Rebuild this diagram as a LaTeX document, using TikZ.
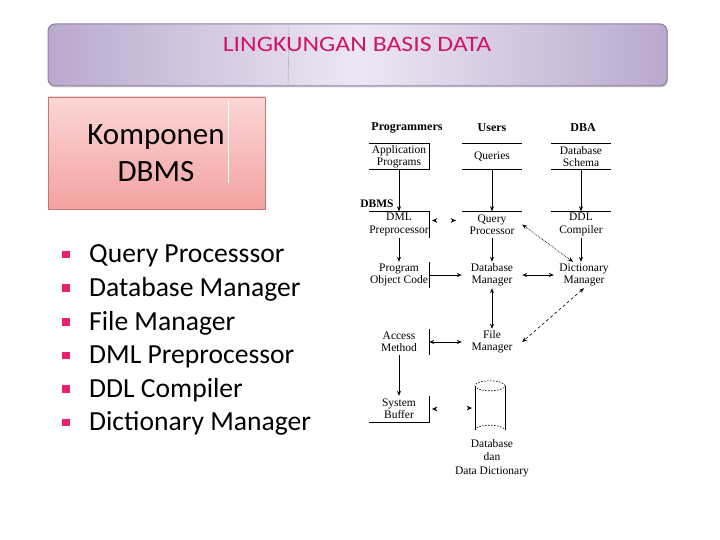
\documentclass[tikz,border=0pt]{standalone}
\usepackage{fontspec}
\setmainfont{Carlito}
\newfontfamily\tnr{Liberation Serif}
\usetikzlibrary{arrows.meta,shadows,calc}
\definecolor{titlemag}{HTML}{D0146C}
\definecolor{bulletpink}{HTML}{E4226E}
\definecolor{bannerdark}{HTML}{B9A9CD}
\definecolor{bannerlight}{HTML}{EDE7F3}
\definecolor{bannerborder}{HTML}{8E7FA2}
\definecolor{pinktop}{HTML}{FBD6D6}
\definecolor{pinkbot}{HTML}{F4A2A2}
\definecolor{pinkborder}{HTML}{C27676}
\tikzset{
  dnode/.style={font=\tnr\fontsize{11.5}{12.3}\selectfont, align=center, inner sep=0pt,
                minimum width=60pt, minimum height=26pt},
  hdr/.style={font=\tnr\bfseries\fontsize{12}{12}\selectfont, inner sep=0pt},
  rule/.style={line width=0.6pt},
  arr/.style={line width=0.6pt, -{Stealth[length=5pt,width=4pt]}},
  darr/.style={line width=0.6pt, {Stealth[length=5pt,width=4pt]}-{Stealth[length=5pt,width=4pt]}},
  headsonly/.style={draw=white, line width=0.1pt, {Stealth[length=5pt,width=4.5pt,color=black]}-{Stealth[length=5pt,width=4.5pt,color=black]}},
  bullet/.style={fill=bulletpink, minimum size=7.5pt, inner sep=0pt},
  item/.style={font=\fontsize{27.6}{30}\selectfont, anchor=west, inner sep=0pt},
}
\begin{document}
\begin{tikzpicture}[x=1pt,y=-1pt]
\useasboundingbox (0,0) rectangle (720,540);
% title banner
\node[draw=bannerborder, line width=1pt, rounded corners=7pt,
      left color=bannerdark, right color=bannerdark, middle color=bannerlight,
      drop shadow={shadow xshift=1pt, shadow yshift=-1.5pt, opacity=0.35},
      minimum width=619pt, minimum height=62pt, inner sep=0pt] (banner) at (357.5,55) {};
\draw[gray!70, line width=0.4pt] (289,26) -- (288,85);
\node[font=\fontsize{22}{24}\selectfont, text=titlemag, inner sep=0pt, xscale=1.17] (title) at (357,44) {LINGKUNGAN BASIS DATA};
% pink box
\node[draw=pinkborder, line width=0.6pt, top color=pinktop, bottom color=pinkbot,
      minimum width=217pt, minimum height=112pt, inner sep=0pt] (komp) at (156.5,153) {};
\draw[white, line width=0.6pt] (228,100) -- (228,183);
\node[font=\fontsize{31}{37}\selectfont, align=center, inner sep=0pt] (kompt) at (156,153) {Komponen\\DBMS};
% bullet list
\foreach \t [count=\i] in {Query Processsor, Database Manager, File Manager, DML Preprocessor, DDL Compiler, Dictionary Manager}{
  \node[bullet] (b\i) at (66,{221+33.6*\i}) {};
  \node[item] (t\i) at (89,{222+33.6*\i}) {\t};
}
% right diagram headers
\node[hdr] (prog) at (407,128) {Programmers};
\node[hdr] (users) at (492,128) {Users};
\node[hdr] (dba) at (583,128) {DBA};
\node[hdr, font=\tnr\bfseries\fontsize{11.5}{12}\selectfont] (dbmsl) at (377,204) {DBMS};
% row 1
\node[dnode] (app) at (399,156.5) {Application\\Programs};
\node[dnode] (qry) at (492,156.5) {Queries};
\node[dnode] (sch) at (581,156.5) {Database\\Schema};
% row 2
\node[dnode] (dml) at (399,224.5) {DML\\Preprocessor};
\node[dnode] (qp) at (492,224.5) {Query\\Processor};
\node[dnode] (ddl) at (581,224.5) {DDL\\Compiler};
% row 3
\node[dnode] (poc) at (399,275) {Program\\Object Code};
\node[dnode] (dbm) at (492,275) {Database\\Manager};
\node[dnode] (dict) at (584,275) {Dictionary\\Manager};
% row 4
\node[dnode] (am) at (399,342) {Access\\Method};
\node[dnode] (fm) at (492,342) {File\\Manager};
% row 5
\node[dnode] (sb) at (399,409) {System\\Buffer};
\node[minimum width=30pt, minimum height=44pt, inner sep=0pt] (cyl) at (490,408) {};
\node[dnode, font=\tnr\fontsize{11.5}{13.5}\selectfont] (dbl) at (492,458) {Database\\dan\\Data Dictionary};
% rules
\draw[rule] (app.north west) -- (app.north east) -- (app.south east) -- (app.south west);
\draw[rule] (qry.north west) -- (qry.north east);
\draw[rule] (qry.south west) -- (qry.south east);
\draw[rule] (sch.north west) -- (sch.north east);
\draw[rule] (sch.south west) -- (sch.south east);
\draw[rule] (dml.north west) -- (dml.north east) -- (dml.south east);
\draw[rule] (qp.north west) -- (qp.north east);
\draw[rule] (ddl.north west) -- (ddl.north east);
\draw[rule] (poc.north east) -- (poc.south east);
\draw[rule] (am.north east) -- (am.south east);
\draw[rule] (sb.north east) -- (sb.south east) -- (sb.south west);
% cylinder
\draw[rule] (cyl.north west) -- (cyl.south west);
\draw[rule] (cyl.north east) -- (cyl.south east);
\draw[rule, dash pattern=on 1.5pt off 1.5pt] (cyl.north) ellipse [x radius=15pt, y radius=5pt];
\draw[rule, dash pattern=on 1.5pt off 1.5pt] (cyl.south west) arc[start angle=180, end angle=360, x radius=15pt, y radius=-5pt];
% connectors
\draw[arr] (app.south) -- (dml.north);
\draw[arr] (qry.south) -- (qp.north);
\draw[arr] (sch.south) -- (ddl.north);
\draw[arr] (dml.south) -- (poc.north);
\draw[arr] (qp.south) -- (dbm.north);
\draw[arr] (ddl.south) -- (ddl.south |- dict.north);
\draw[arr] (poc.east) -- (dbm.west);
\draw[darr] (dbm.east) -- (dict.west);
\draw[darr] (dbm.south) -- (fm.north);
\draw[darr] (am.east) -- (fm.west);
\draw[arr] (am.south) -- (sb.north);
\draw[darr, dash pattern=on 0.8pt off 1pt] (qp.east) -- ([xshift=-11pt]dict.north);
\draw[darr, dash pattern=on 3pt off 2.5pt] (dict.south) -- (fm.east);
\draw[headsonly] ([xshift=3pt,yshift=4pt]dml.east) -- ([xshift=-6pt,yshift=4pt]qp.west);
\draw[headsonly] ([xshift=3pt]sb.east) -- ([xshift=-3pt]cyl.west);
\end{tikzpicture}
\end{document}
